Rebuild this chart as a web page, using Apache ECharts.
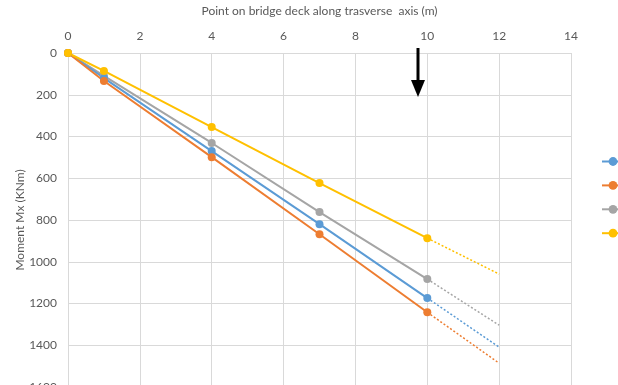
<!DOCTYPE html>
<html>
<head>
<meta charset="utf-8">
<script src="https://cdn.jsdelivr.net/npm/echarts@6/dist/echarts.min.js"></script>
<style>html,body{margin:0;padding:0;background:#fff;}#c{width:618px;height:385px;}</style>
</head>
<body>
<div id="c"></div>
<script>
// Data
const xPoints = [0, 1, 4, 7, 10];
const seriesNames = ['Series1', 'Series2', 'Series3', 'Series4'];
const blueVals   = [0, 120, 470, 820, 1174];
const orangeVals = [0, 134, 499, 868, 1242];
const grayVals   = [0, 110, 431, 762, 1083];
const yellowVals = [0, 86, 355, 623, 887];
const trendX = [10, 12];
const blueTrend   = [1174, 1409];
const orangeTrend = [1242, 1486];
const grayTrend   = [1083, 1304];
const yellowTrend = [887, 1059];
const xTicks = [0, 2, 4, 6, 8, 10, 12, 14];
const yTicks = [0, 200, 400, 600, 800, 1000, 1200, 1400, 1600];
const xTitle = 'Point on bridge deck along trasverse  axis (m)';
const yTitle = 'Moment Mx (KNm)';

const colors = ['#5B9BD5', '#ED7D31', '#A5A5A5', '#FFC000'];
const mainVals = [blueVals, orangeVals, grayVals, yellowVals];
const trendVals = [blueTrend, orangeTrend, grayTrend, yellowTrend];
const FONT = 'Lato';
const TXT = '#595959';

const series = [];
const order = [2, 0, 1, 3];
order.forEach(i => {
  series.push({
    name: seriesNames[i] + ' trend',
    type: 'line',
    data: trendX.map((x, k) => [x, trendVals[i][k]]),
    showSymbol: false,
    symbol: 'none',
    lineStyle: { color: colors[i], width: 1.5, type: [2, 2] },
    z: 1,
    silent: true
  });
});
order.forEach(i => {
  series.push({
    name: seriesNames[i],
    type: 'line',
    data: xPoints.map((x, k) => [x, mainVals[i][k]]),
    symbol: 'circle',
    symbolSize: 8,
    itemStyle: { color: colors[i] },
    lineStyle: { color: colors[i], width: 2 },
    z: 3
  });
});

const chart = echarts.init(document.getElementById('c'), null, { renderer: 'canvas' });
chart.setOption({
  animation: false,
  backgroundColor: '#fff',
  textStyle: { fontFamily: FONT },
  grid: { left: 68, right: 47, top: 53, height: 334, containLabel: false, outerBoundsMode: 'none' },
  legend: {
    orient: 'vertical',
    left: 596,
    top: 151,
    itemGap: 14,
    itemWidth: 22,
    itemHeight: 11,
    data: seriesNames.map(n => ({ name: n })),
    formatter: () => '',
    textStyle: { fontSize: 1 },
    selectedMode: false
  },
  xAxis: {
    type: 'value',
    position: 'top',
    min: 0, max: 14, interval: 2,
    name: xTitle,
    nameLocation: 'middle',
    nameGap: 36,
    nameTextStyle: { color: TXT, fontSize: 12, fontFamily: FONT },
    axisLine: { show: true, lineStyle: { color: '#d9d9d9' } },
    axisTick: { show: false },
    axisLabel: { color: TXT, fontSize: 12, margin: 11, fontFamily: FONT, formatter: v => String(v) },
    splitLine: { show: true, lineStyle: { color: '#d9d9d9', width: 1 } }
  },
  yAxis: {
    type: 'value',
    inverse: true,
    min: 0, max: 1600, interval: 200,
    name: yTitle,
    nameLocation: 'middle',
    nameGap: 42,
    nameMoveOverlap: false,
    nameTextStyle: { color: TXT, fontSize: 12, fontFamily: FONT },
    axisLine: { show: true, lineStyle: { color: '#d9d9d9' } },
    axisTick: { show: false },
    axisLabel: { color: TXT, fontSize: 12, margin: 11, fontFamily: FONT, formatter: v => String(v) },
    splitLine: { show: true, lineStyle: { color: '#d9d9d9', width: 1 } }
  },
  series: series,
  graphic: [
    { type: 'line', shape: { x1: 418, y1: 48, x2: 418, y2: 84 }, style: { stroke: '#000', lineWidth: 3 }, z: 100 },
    { type: 'polygon', shape: { points: [[411, 80], [425, 80], [418, 97]] }, style: { fill: '#000' }, z: 100 }
  ]
});
</script>
</body>
</html>
